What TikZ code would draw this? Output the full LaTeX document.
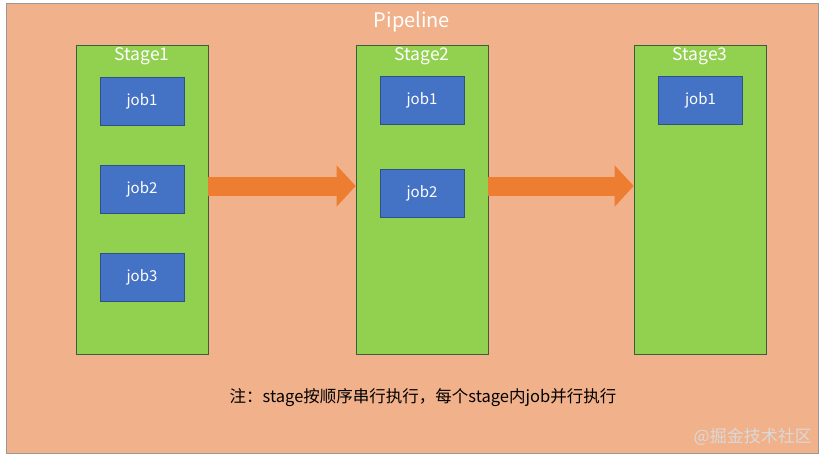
\documentclass[tikz,border=0pt]{standalone}
\usepackage{fontspec}
\setmainfont{Noto Sans CJK SC}
\usepackage{xcolor}
\usetikzlibrary{arrows.meta}
\definecolor{pipebg}{HTML}{F1B18A}
\definecolor{stagegreen}{HTML}{92D050}
\definecolor{jobblue}{HTML}{4472C4}
\definecolor{arroworange}{HTML}{ED7D31}
\begin{document}
\begin{tikzpicture}
			[x=1pt, y=-1pt,
			stage/.style={draw=gray!80!green!60!black, line width=0.6pt, fill=stagegreen, minimum width=132pt, minimum height=309pt, inner sep=0pt},
			job/.style={draw=jobblue!70!black, line width=0.5pt, fill=jobblue, minimum width=84pt, minimum height=48pt, inner sep=0pt, text=white, font=\fontsize{15}{17}\selectfont},
			stagetext/.style={text=white, font=\fontsize{17.5}{19}\selectfont, inner sep=0pt},
			bigarrow/.style={arroworange, line width=19pt, -{Triangle[length=19pt, width=40pt]}}]
			\useasboundingbox (0,0) rectangle (824,458);
			\fill[white] (0,0) rectangle (824,458);
			\node[draw=gray!80, line width=0.8pt, fill=pipebg, minimum width=812pt, minimum height=450pt, inner sep=0pt] (pipeline) at (412,228) {};
			\node[text=white, font=\fontsize{20}{22}\selectfont, inner sep=0pt] (pipetitle) at (412,22) {Pipeline};
			\foreach \i/\x in {1/142, 2/422, 3/700} {
				\node[stage] (s\i) at (\x,199.5) {};
				\node[stagetext] (s\i title) at (\x,56) {Stage\i};
			}
			\node[job] (s1j1) at (142,101) {job1};
			\node[job] (s1j2) at (142,189.5) {job2};
			\node[job] (s1j3) at (142,277) {job3};
			\node[job] (s2j1) at (422,100.5) {job1};
			\node[job] (s2j2) at (422,193) {job2};
			\node[job] (s3j1) at (700.5,100.5) {job1};
			\draw[bigarrow] ([yshift=13.5pt]s1.east) -- ([yshift=13.5pt]s2.west);
			\draw[bigarrow] ([yshift=13.5pt]s2.east) -- ([yshift=13.5pt]s3.west);
			\node[font=\fontsize{16.5}{18}\selectfont, inner sep=0pt] (note) at (423,398) {注：stage按顺序串行执行，每个stage内job并行执行};
			\node[text=white!85!black, font=\fontsize{17}{19}\selectfont, inner sep=0pt, anchor=east] (mark) at (812,437) {@掘金技术社区};
		\end{tikzpicture}
\end{document}
